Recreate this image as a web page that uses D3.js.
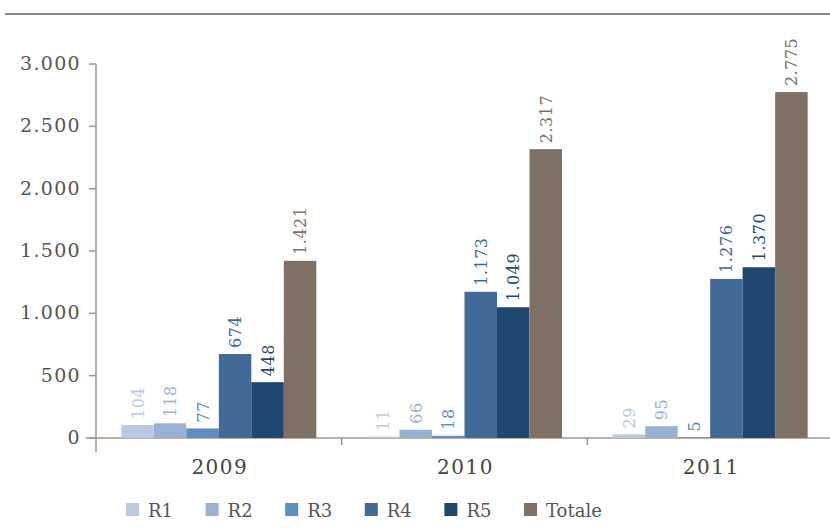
<!DOCTYPE html>
<html>
<head>
<meta charset="utf-8">
<script src="https://cdn.jsdelivr.net/npm/d3@7/dist/d3.min.js"></script>
<style>
  body { margin: 0; background: #fff; }
  text { font-family: "DejaVu Serif", "Liberation Serif", serif; }
</style>
</head>
<body>
<div id="chart"></div>
<script>
// data
var years = ["2009", "2010", "2011"];
var seriesNames = ["R1", "R2", "R3", "R4", "R5", "Totale"];
var r1 = [104, 11, 29];
var r2 = [118, 66, 95];
var r3 = [77, 18, 5];
var r4 = [674, 1173, 1276];
var r5 = [448, 1049, 1370];
var totale = [1421, 2317, 2775];
var yTicks = [0, 500, 1000, 1500, 2000, 2500, 3000];

var colors = ["#b9cae0", "#98b3d2", "#5b8fc0", "#416b96", "#1f4870", "#7f7065"];
var values = [r1, r2, r3, r4, r5, totale];

var width = 830, height = 531;

var svg = d3.select("#chart").append("svg")
	.attr("width", width).attr("height", height);

// top rule
svg.append("line")
	.attr("x1", 5).attr("x2", width).attr("y1", 14).attr("y2", 14)
	.attr("stroke", "#888").attr("stroke-width", 2);

var x0 = d3.scaleBand().domain(years).range([96, 833]).paddingInner(0).paddingOuter(0);
var x1 = d3.scaleBand().domain(seriesNames).range([0, x0.bandwidth()]).paddingInner(0).paddingOuter(0.78);
var y = d3.scaleLinear().domain([0, 3000]).range([438, 64]);

var fmt = d3.formatLocale({decimal: ",", thousands: ".", grouping: [3], currency: ["", "€"]}).format(",");

// y axis
var yAxis = svg.append("g");
yAxis.append("line")
	.attr("x1", 96).attr("x2", 96).attr("y1", y(3000)).attr("y2", 452)
	.attr("stroke", "#a0948c").attr("stroke-width", 1.5);
yAxis.selectAll(".tick").data(yTicks).enter().append("line")
	.attr("x1", 89).attr("x2", 96)
	.attr("y1", function(d) { return y(d); }).attr("y2", function(d) { return y(d); })
	.attr("stroke", "#a0948c").attr("stroke-width", 1.5);
yAxis.selectAll(".lbl").data(yTicks).enter().append("text")
	.attr("x", 81).attr("y", function(d) { return y(d) + 6; })
	.attr("text-anchor", "end")
	.attr("font-size", 19).attr("letter-spacing", 1.3).attr("fill", "#555")
	.text(function(d) { return fmt(d); });

// x axis
svg.append("line")
	.attr("x1", 86).attr("x2", width).attr("y1", 438).attr("y2", 438)
	.attr("stroke", "#a0948c").attr("stroke-width", 1.5);
svg.selectAll(".xsep").data(years.slice(1)).enter().append("line")
	.attr("x1", function(d) { return x0(d); }).attr("x2", function(d) { return x0(d); })
	.attr("y1", 438).attr("y2", 445)
	.attr("stroke", "#a0948c").attr("stroke-width", 1.5);
svg.selectAll(".xlbl").data(years).enter().append("text")
	.attr("x", function(d) { return x0(d) + x0.bandwidth() / 2 + 1; })
	.attr("y", 474)
	.attr("text-anchor", "middle")
	.attr("font-size", 20).attr("letter-spacing", 1.5).attr("fill", "#444")
	.text(function(d) { return d; });

// bars
var groups = svg.selectAll(".grp").data(years).enter().append("g")
	.attr("transform", function(d) { return "translate(" + x0(d) + ",0)"; });

groups.each(function(yr, yi) {
	var g = d3.select(this);
	var rows = seriesNames.map(function(s, si) { return {name: s, v: values[si][yi], c: colors[si]}; });
	g.selectAll("rect").data(rows).enter().append("rect")
		.attr("x", function(d) { return x1(d.name); })
		.attr("width", x1.bandwidth())
		.attr("y", function(d) { return y(d.v); })
		.attr("height", function(d) { return y(0) - y(d.v); })
		.attr("fill", function(d) { return d.c; });
	g.selectAll("text").data(rows).enter().append("text")
		.attr("transform", function(d) {
			return "translate(" + (x1(d.name) + x1.bandwidth() / 2 + 6) + "," + (y(d.v) - 6) + ") rotate(-90)";
		})
		.attr("font-size", 16).attr("letter-spacing", 0.5)
		.attr("fill", function(d) { return d.c; })
		.text(function(d) { return fmt(d.v); });
});

// legend
var legend = svg.selectAll(".leg").data(seriesNames).enter().append("g")
	.attr("transform", function(d, i) { return "translate(" + (126 + i * 79.6) + ",503)"; });
legend.append("rect")
	.attr("width", 13).attr("height", 13)
	.attr("fill", function(d, i) { return colors[i]; });
legend.append("text")
	.attr("x", 22).attr("y", 14)
	.attr("font-size", 18).attr("fill", "#555")
	.text(function(d) { return d; });
</script>
</body>
</html>
